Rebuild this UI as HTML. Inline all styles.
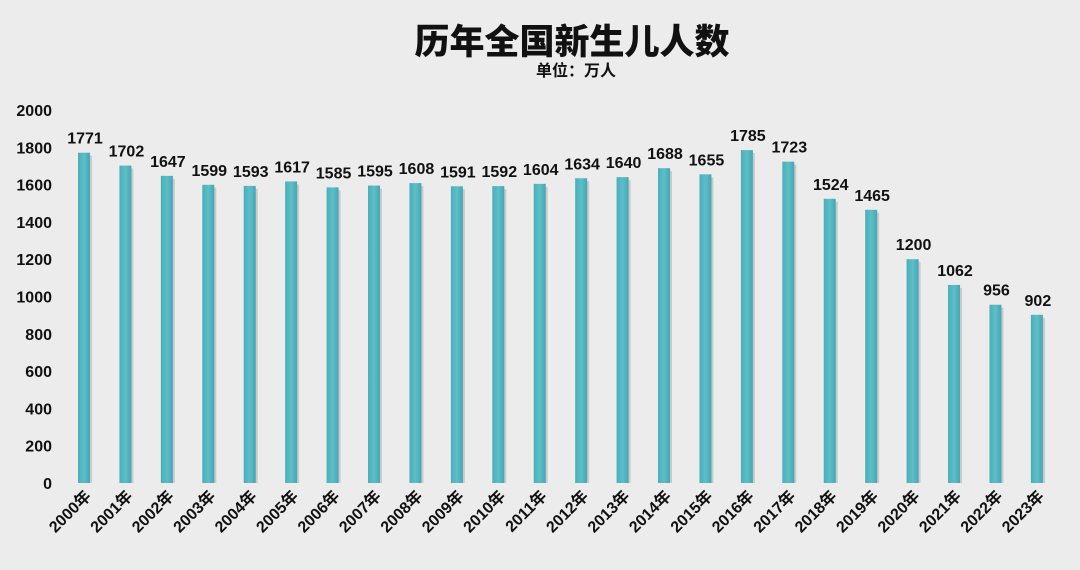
<!DOCTYPE html>
<html><head><meta charset="utf-8"><style>
html,body{margin:0;padding:0;background:#ececec;}
svg{display:block;font-family:"Liberation Sans","Noto Sans CJK SC",sans-serif;font-weight:bold;}
</style></head><body>
<svg width="1080" height="570" viewBox="0 0 1080 570">
<defs>
<linearGradient id="g" x1="0" x2="1" y1="0" y2="0">
<stop offset="0" stop-color="#4aaeb8"/><stop offset="0.5" stop-color="#5cbfc8"/><stop offset="1" stop-color="#46a6b3"/>
</linearGradient>
</defs>
<rect width="1080" height="570" fill="#ececec"/>
<g id="yt" font-size="16" fill="#111" text-anchor="end"></g>
<g id="bars"></g>
<text x="572" y="54" text-anchor="middle" font-size="35" fill="#111" font-family="Noto Sans CJK SC,sans-serif" font-weight="900">历年全国新生儿人数</text>
<text x="576" y="76" text-anchor="middle" font-size="16" fill="#111" font-family="Noto Sans CJK SC,sans-serif">单位：万人</text>
</svg>
<script>
(function(){
var v=[1771,1702,1647,1599,1593,1617,1585,1595,1608,1591,1592,1604,1634,1640,1688,1655,1785,1723,1524,1465,1200,1062,956,902];
var ns="http://www.w3.org/2000/svg",y0=483,k=373/2000;
var yt=document.getElementById("yt"),b=document.getElementById("bars");
function el(t,a,p,txt){var e=document.createElementNS(ns,t);for(var q in a)e.setAttribute(q,a[q]);if(txt)e.textContent=txt;p.appendChild(e);return e;}
for(var i=0;i<=10;i++){el("text",{x:52,y:y0-i*200*k+6},yt,String(i*200));}
for(var i=0;i<v.length;i++){
 var cx=84+i*41.43,h=v[i]*k,bt=y0-h;
 el("rect",{x:cx-4,y:bt+3,width:12,height:h-3,fill:"#b9bcbe",opacity:0.7},b);
 el("rect",{x:cx-6,y:bt,width:12,height:h,fill:"url(#g)"},b);
 el("text",{x:cx+1,y:bt-9,"text-anchor":"middle","font-size":16,fill:"#111"},b,String(v[i]));
 el("text",{x:0,y:0,"text-anchor":"end","font-size":16,fill:"#111",transform:"translate("+(cx+8)+",497) rotate(-45)"},b,(2000+i)+"年");
}
})();
</script>
</body></html>
